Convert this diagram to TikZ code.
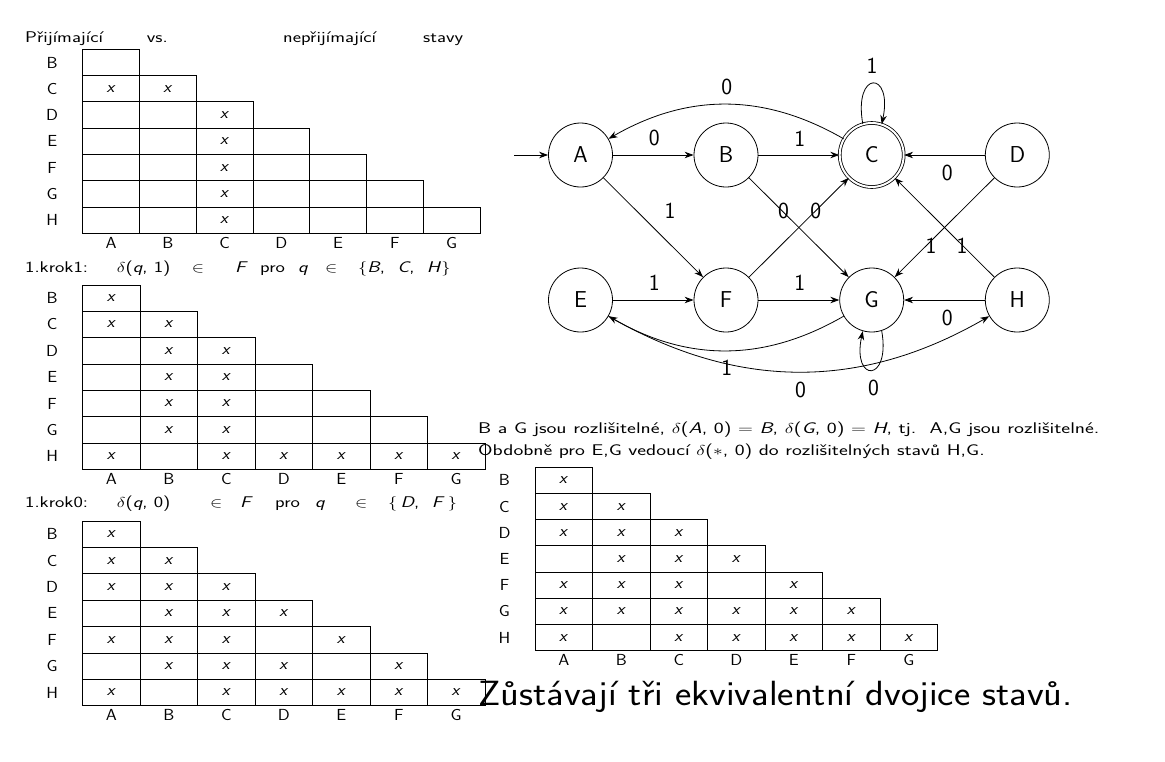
\documentclass[tikz,border=0pt]{standalone}
\usepackage{fontspec}
\usepackage{graphicx}
\renewcommand{\familydefault}{\sfdefault}
\usetikzlibrary{arrows.meta}
\newcommand{\fs}[1]{\fontsize{#1}{#1}\selectfont}
\newcommand{\sx}[2]{\scalebox{#1}[1]{#2}}
\newcommand{\dtable}[6]{%
  \foreach \r in {1,...,7}{\foreach \c in {1,...,\r}{\draw[cell] ({#2+(\c-1)*#4},{#3+(\r-1)*#5}) rectangle ++(#4,#5);}}
  \foreach \r/\l in {1/B,2/C,3/D,4/E,5/F,6/G,7/H}{\node[tl] (#1r\l) at ({#2-30.5},{#3+(\r-0.5)*#5}) {\sx{1.1}{\l}};}
  \foreach \c/\l in {1/A,2/B,3/C,4/D,5/E,6/F,7/G}{\node[tl] (#1c\l) at ({#2+(\c-0.5)*#4},{#3+7*#5+9.5}) {\sx{1.1}{\l}};}
  \foreach \r/\c in {#6}{\node[tl] (#1m\r\c) at ({#2+(\c-0.5)*#4},{#3+(\r-0.5)*#5}) {\sx{1.12}{\textit{x}}};}
}
\tikzset{
  cell/.style={draw, line width=0.9pt},
  tl/.style={font=\fs{16}, inner sep=0pt},
  hd/.style={font=\fs{15.5}, inner sep=0pt, anchor=base west},
  st/.style={draw, circle, line width=0.8pt, minimum size=64pt, inner sep=0pt, font=\fs{23}},
  acc/.style={st, double, double distance=2pt},
  arr/.style={-{Stealth[length=9pt,width=6.5pt]}, line width=0.8pt},
  lbl/.style={font=\fs{23}, inner sep=0pt},
}
\begin{document}
\begin{tikzpicture}[x=1pt,y=-1pt]
\useasboundingbox (0,0) rectangle (1165,761);
% ---- headers ----
\node[hd] (h1a) at (25,42.7) {\sx{1.28}{Přijímající}};
\node[hd] (h1b) at (146.7,42.7) {\sx{1.28}{vs.}};
\node[hd] (h1c) at (283,42.7) {\sx{1.28}{nepřijímající}};
\node[hd] (h1d) at (423,42.7) {\sx{1.28}{stavy}};
\node[hd] (h2a) at (25,272) {\sx{1.28}{1.krok1:}};
\node[hd] (h2b) at (116.7,272) {\sx{1.28}{$\delta$(\textit{q}, 1)}};
\node[hd] (h2c) at (191.7,272) {\sx{1.28}{$\in$}};
\node[hd] (h2d) at (235,272) {\sx{1.28}{\textit{F}}};
\node[hd] (h2e) at (260,272) {\sx{1.28}{pro}};
\node[hd] (h2f) at (298,272) {\sx{1.28}{\textit{q}}};
\node[hd] (h2g) at (325,272) {\sx{1.28}{$\in$}};
\node[hd] (h2h) at (358,272) {\sx{1.28}{$\{$\textit{B},\ \ \textit{C},\ \ \textit{H}$\}$}};
\node[hd] (h3a) at (25,507) {\sx{1.28}{1.krok0:}};
\node[hd] (h3b) at (116.7,507) {\sx{1.28}{$\delta$(\textit{q}, 0)}};
\node[hd] (h3c) at (210,507) {\sx{1.28}{$\in$}};
\node[hd] (h3d) at (240,507) {\sx{1.28}{\textit{F}}};
\node[hd] (h3e) at (275,507) {\sx{1.28}{pro}};
\node[hd] (h3f) at (315,507) {\sx{1.28}{\textit{q}}};
\node[hd] (h3g) at (355,507) {\sx{1.28}{$\in$}};
\node[hd] (h3h) at (388,507) {\sx{1.28}{$\{$\,\textit{D},\ \ \textit{F}\,$\}$}};
\node[hd] (t1) at (478,433.3) {\sx{1.357}{B a G jsou rozlišitelné, $\delta$(\textit{A}, 0) $=$ \textit{B}, $\delta$(\textit{G}, 0) $=$ \textit{H}, tj.\ \ A,G jsou rozlišitelné.}};
\node[hd] (t2) at (478,455) {\sx{1.35}{Obdobně pro E,G vedoucí $\delta$($*$, 0) do rozlišitelných stavů H,G.}};
\node[hd, font=\fs{35}] (t3) at (478,705) {\sx{1.11}{Zůstávají tři ekvivalentní dvojice stavů.}};
% ---- tables ----
\dtable{ta}{82.7}{49.3}{56.76}{26.29}{2/1,2/2,3/3,4/3,5/3,6/3,7/3}
\dtable{tb}{82.7}{285}{57.47}{26.33}{1/1,2/1,2/2,3/2,3/3,4/2,4/3,5/2,5/3,6/2,6/3,7/1,7/3,7/4,7/5,7/6,7/7}
\dtable{tc}{82.7}{521}{57.47}{26.39}{1/1,2/1,2/2,3/1,3/2,3/3,4/2,4/3,4/4,5/1,5/2,5/3,5/5,6/2,6/3,6/4,6/6,7/1,7/3,7/4,7/5,7/6,7/7}
\dtable{td}{535}{467.3}{57.53}{26.2}{1/1,2/1,2/2,3/1,3/2,3/3,4/2,4/3,4/4,5/1,5/2,5/3,5/5,6/1,6/2,6/3,6/4,6/5,6/6,7/1,7/3,7/4,7/5,7/6,7/7}
% ---- automaton ----
\node[st] (A) at (580.5,155) {A};
\node[st] (B) at (726,155) {B};
\node[acc] (C) at (871.7,155) {C};
\node[st] (D) at (1017.3,155) {D};
\node[st] (E) at (580.5,300) {E};
\node[st] (F) at (726,300) {F};
\node[st] (G) at (871.7,300) {G};
\node[st] (H) at (1017.3,300) {H};
\coordinate (start) at (514,155);
\draw[arr] (start) -- (A);
\draw[arr] (A) -- (B) node[lbl] (lAB) at (654.3,138.3) {0};
\draw[arr] (B) -- (C) node[lbl] (lBC) at (799.8,138.3) {1};
\draw[arr] (D) -- (C) node[lbl] (lDC) at (947.3,172.7) {0};
\draw[arr] (C) to[bend right=30] (A) node[lbl] (lCA) at (726.8,86.7) {0};
\draw[arr] (C.106) .. controls +(-100:55) and +(-78:55) .. (C.72) node[lbl] (lCC) at (872,66) {1};
\draw[arr] (A) -- (F) node[lbl] (lAF) at (670,210.7) {1};
\draw[arr] (B) -- (G) node[lbl] (lBG) at (783.6,210.7) {0};
\draw[arr] (F) -- (C) node[lbl] (lFC) at (815.7,210.7) {0};
\draw[arr] (D) -- (G) node[lbl] (lDG) at (931,246) {1};
\draw[arr] (H) -- (C) node[lbl] (lHC) at (962,246) {1};
\draw[arr] (E) -- (F) node[lbl] (lEF) at (654.3,283) {1};
\draw[arr] (F) -- (G) node[lbl] (lFG) at (799.8,283) {1};
\draw[arr] (H) -- (G) node[lbl] (lHG) at (947.3,317.7) {0};
\draw[arr] (G) to[bend left=30] (E) node[lbl] (lGE) at (726.8,368) {1};
\draw[arr] (E) to[bend right=30] (H) node[lbl] (lEH) at (800.6,390) {0};
\draw[arr] (G.-72) .. controls +(80:53) and +(102:53) .. (G.-106) node[lbl] (lGG) at (873.5,388) {0};
\end{tikzpicture}
\end{document}
